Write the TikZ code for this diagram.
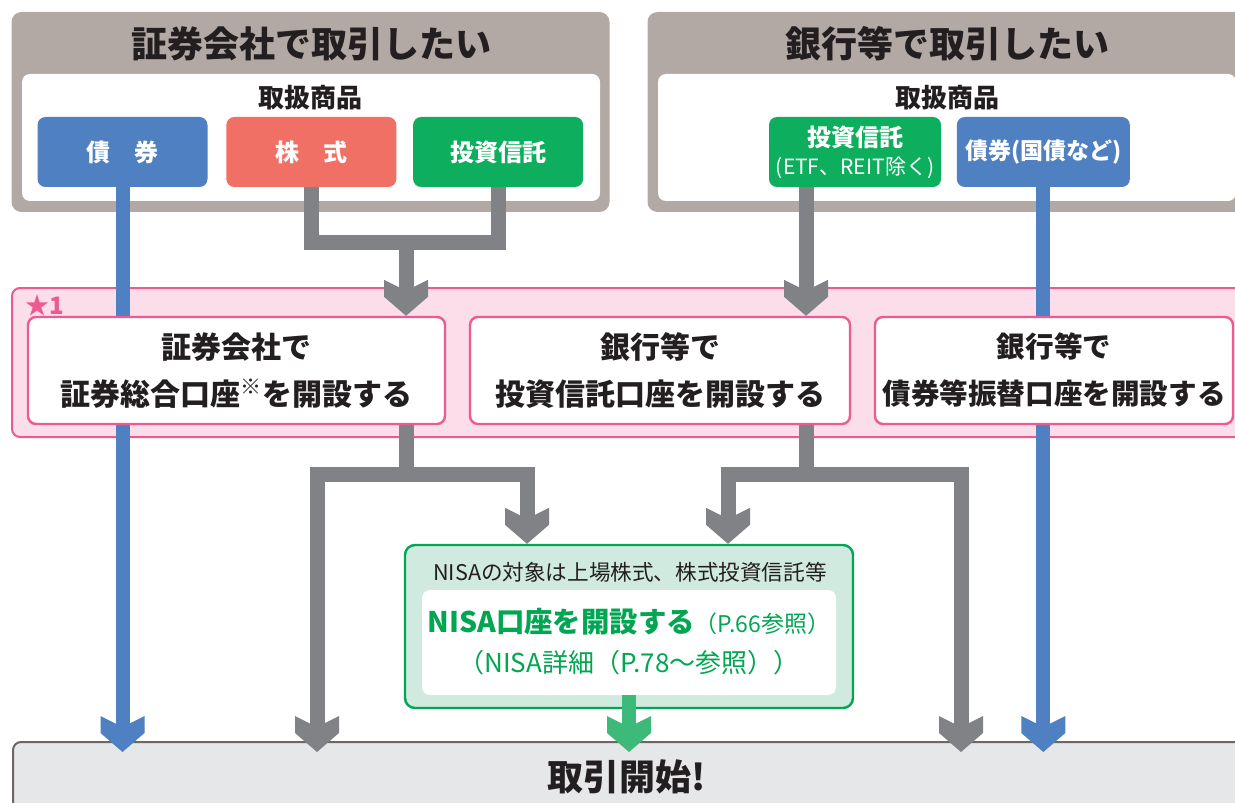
\documentclass[tikz,border=0pt]{standalone}
\usepackage{fontspec}
\setmainfont{Noto Sans CJK JP}
\usetikzlibrary{arrows.meta}
\usetikzlibrary{positioning}
\definecolor{PanelBrown}{RGB}{179,169,164}
\definecolor{ItemBlue}{RGB}{79,128,194}
\definecolor{ItemRed}{RGB}{241,112,101}
\definecolor{ItemGreen}{RGB}{14,174,95}
\definecolor{FlowGray}{RGB}{128,130,133}
\definecolor{BandPink}{RGB}{251,222,233}
\definecolor{LinePink}{RGB}{236,90,145}
\definecolor{NisaFill}{RGB}{209,234,223}
\definecolor{NisaGreen}{RGB}{0,166,81}
\definecolor{ArrowGreen}{RGB}{61,186,122}
\definecolor{StartFill}{RGB}{230,231,232}
\definecolor{StartLine}{RGB}{110,102,98}
\definecolor{InkDark}{RGB}{35,31,32}
\pgfdeclarearrow{
	name = FlowTip,
	setup code = {
		\pgfarrowssettipend{0pt}
		\pgfarrowssetlineend{-12pt}
		\pgfarrowssetbackend{-18pt}
		\pgfarrowssetvisualbackend{-12.5pt}
		\pgfarrowshullpoint{0pt}{0pt}
		\pgfarrowsupperhullpoint{-9.5pt}{11pt}
		\pgfarrowsupperhullpoint{-18pt}{11pt}
	},
	drawing code = {
		\pgfpathmoveto{\pgfqpoint{0pt}{0pt}}
		\pgfpathlineto{\pgfqpoint{-9.5pt}{11pt}}
		\pgfpathlineto{\pgfqpoint{-18pt}{11pt}}
		\pgfpathlineto{\pgfqpoint{-12.5pt}{0pt}}
		\pgfpathlineto{\pgfqpoint{-18pt}{-11pt}}
		\pgfpathlineto{\pgfqpoint{-9.5pt}{-11pt}}
		\pgfpathclose
		\pgfusepathqfill
	}
}
\tikzset{
	panel/.style={fill=PanelBrown, rounded corners=5pt, minimum width=299pt, minimum height=100pt, inner sep=0pt},
	whitepanel/.style={fill=white, rounded corners=4pt, minimum width=289pt, minimum height=63.5pt, inner sep=0pt},
	headtxt/.style={text=InkDark, font=\bfseries\fontsize{18}{20}\selectfont, inner sep=0pt},
	listtxt/.style={text=InkDark, font=\bfseries\fontsize{13}{15}\selectfont, inner sep=0pt},
	itembox/.style={rounded corners=4pt, minimum width=85pt, minimum height=35pt, inner sep=0pt,
		text=white, align=center, font=\bfseries\fontsize{12}{14}\selectfont},
	band/.style={fill=BandPink, draw=LinePink, line width=1pt, rounded corners=4pt,
		minimum width=619pt, minimum height=74.5pt, inner sep=0pt},
	marktxt/.style={text=LinePink, font=\bfseries\fontsize{12}{12}\selectfont, inner sep=0pt},
	acct/.style={fill=white, draw=LinePink, line width=1.2pt, rounded corners=4pt, minimum height=53.5pt,
		inner sep=0pt, align=center, text=InkDark, font=\bfseries\fontsize{15}{23.5}\selectfont},
	nisaouter/.style={fill=NisaFill, draw=NisaGreen, line width=1.2pt, rounded corners=5pt,
		minimum width=224pt, minimum height=81.5pt, inner sep=0pt},
	nisainner/.style={fill=white, rounded corners=4pt, minimum width=207pt, minimum height=52.5pt, inner sep=0pt},
	nisanote/.style={text=InkDark, font=\fontsize{10.8}{12}\selectfont, inner sep=0pt},
	nisatxt/.style={text=NisaGreen, align=center, inner sep=0pt, font=\fontsize{11.5}{20}\selectfont},
	startbox/.style={fill=StartFill, draw=StartLine, line width=1pt, rounded corners=4pt,
		minimum width=616pt, minimum height=44pt, inner sep=0pt},
	starttxt/.style={text=InkDark, font=\bfseries\fontsize{18}{20}\selectfont, inner sep=0pt},
	gflow/.style={draw=FlowGray, line width=7.5pt},
	gto/.style={gflow, -{FlowTip}},
	bto/.style={draw=ItemBlue, line width=7pt, -{FlowTip}},
	nto/.style={draw=ArrowGreen, line width=7pt, -{FlowTip}},
	tostart/.style={shorten >=-5.5pt}
}
\begin{document}
\begin{tikzpicture}[x=0.5pt, y=-0.5pt]
	\clip (0,0) rectangle (1235,802);
	\node[panel] (secpanel) at (310.5,112) {};
	\node[panel] (bankpanel) at (946.5,112) {};
	\node[whitepanel] (seclist) at (311,137.5) {};
	\node[whitepanel] (banklist) at (947,137.5) {};
	\node[headtxt] (sectitle) at (311,44) {証券会社で取引したい};
	\node[headtxt] (banktitle) at (947,44) {銀行等で取引したい};
	\node[listtxt] (seclabel) at (310,98) {取扱商品};
	\node[listtxt] (banklabel) at (947,98) {取扱商品};
	\node[itembox, fill=ItemBlue] (bond1) at (122.5,152) {債　券};
	\node[itembox, fill=ItemRed, right=9pt of bond1] (stock) {株　式};
	\node[itembox, fill=ItemGreen, right=8pt of stock] (fund1) {投資信託};
	\node[itembox, fill=ItemGreen, minimum width=86pt] (fund2) at (855,152)
		{投資信託\\{\mdseries\fontsize{10.5}{12}\selectfont (ETF、REIT除く)}};
	\node[itembox, fill=ItemBlue, minimum width=86.5pt, right=7.5pt of fund2, font=\bfseries\fontsize{11.5}{14}\selectfont] (bond2) {債券(国債など)};

	\node[band] (band) at (631,362.5) {};
	\node[marktxt] (mark) at (45,305) {★1};
	\node[startbox] (start) at (629,786) {};
	\node[starttxt] (starttext) at (627,777) {取引開始!};
	\node[nisaouter] (nisa) at (629,626.5) {};
	\node[nisainner] (nisain) at (629,642.5) {};
	\node[nisanote] (nisahead) at (630,572) {NISAの対象は上場株式、株式投資信託等};
	\node[nisatxt] (nisamain) at (629,642)
		{{\bfseries\fontsize{14.2}{20}\selectfont NISA口座を開設する}（P.66参照）\\{\fontsize{13}{20}\selectfont（NISA詳細（P.78〜参照））}};

	\draw[bto, tostart] (bond1.south) -- (bond1.south |- start.north);
	\draw[bto, tostart] (bond2.south) -- (bond2.south |- start.north);

	\node[acct, minimum width=208.5pt] (acct1) at (236.5,370.5) {証券会社で\\証券総合口座\textsuperscript{※}を開設する};
	\node[acct, minimum width=190pt] (acct2) at (660,370.5) {銀行等で\\投資信託口座を開設する};
	\node[acct, minimum width=179pt, font=\bfseries\fontsize{14.3}{23.5}\selectfont] (acct3) at (1054,370.5) {銀行等で\\債券等振替口座を開設する};

	\coordinate (jL) at (406,242.5);
	\coordinate (jR) at (806,242.5);
	\coordinate (mL) at (406,474);
	\coordinate (mR) at (806,474);
	\coordinate (dL) at (317,0);
	\coordinate (nL) at (527,0);
	\coordinate (nR) at (728,0);
	\coordinate (dR) at (961,0);

	\draw[gflow] (stock.south) |- (jL) -| (fund1.south);
	\draw[gto] (jL) -- (jL |- acct1.north);
	\draw[gto] (fund2.south -| jR) -- (jR |- acct2.north);

	\draw[gflow] (acct1.south -| mL) -- (mL);
	\draw[gto, tostart] (mL) -| (dL |- start.north);
	\draw[gto] (mL) -| (nL |- nisa.north);
	\draw[gflow] (acct2.south -| mR) -- (mR);
	\draw[gto] (mR) -| (nR |- nisa.north);
	\draw[gto, tostart] (mR) -| (dR |- start.north);

	\draw[nto, tostart] (nisain.south) -- (nisain.south |- start.north);
\end{tikzpicture}
\end{document}
